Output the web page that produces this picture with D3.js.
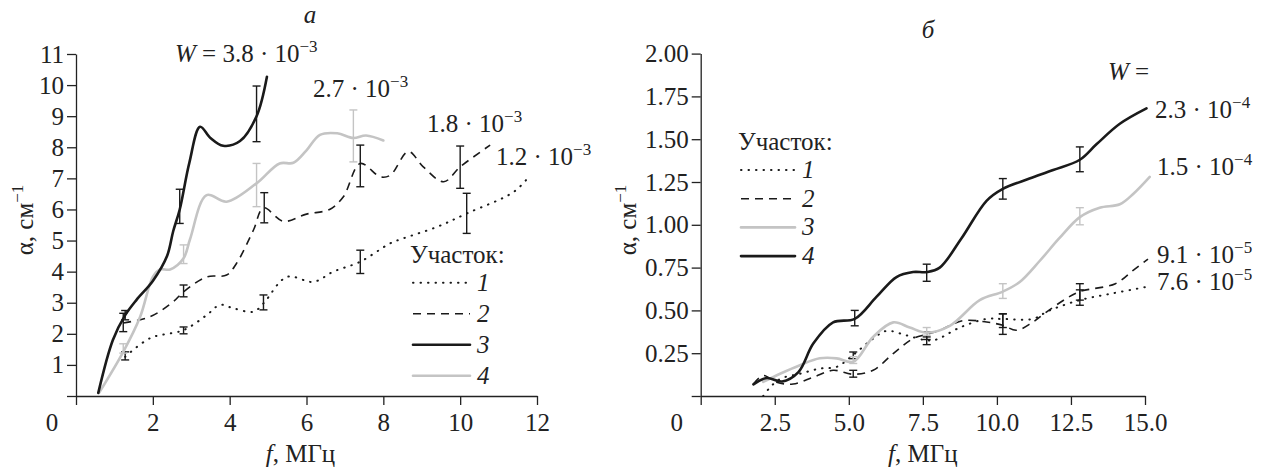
<!DOCTYPE html>
<html>
<head>
<meta charset="utf-8">
<script src="https://cdn.jsdelivr.net/npm/d3@7"></script>
<style>
  body { margin: 0; background: #fff; }
</style>
</head>
<body>
<svg id="chart" width="1267" height="471"></svg>
<script>
// ---- data: panel "а" ----
var aF1 = [1.28, 1.93, 2.8, 3.4, 3.75, 4.1, 4.62, 4.88, 5.49, 6.18, 6.7, 7.4, 8.18, 8.52, 9.4, 10.17, 11.4, 11.82];
var aA1 = [1.26, 1.86, 2.12, 2.6, 2.93, 2.82, 2.71, 2.98, 3.83, 3.67, 4.0, 4.32, 4.91, 5.07, 5.44, 5.87, 6.57, 7.1];
var aF2 = [1.23, 1.93, 2.53, 2.8, 3.4, 3.92, 4.18, 4.62, 4.88, 5.4, 6.0, 6.6, 6.96, 7.4, 7.92, 8.18, 8.65, 9.04, 9.57, 10.0, 10.78];
var aA2 = [2.35, 2.55, 3.03, 3.35, 3.83, 3.89, 4.27, 5.34, 6.05, 5.62, 5.85, 6.0, 6.41, 7.48, 7.05, 7.1, 7.86, 7.37, 6.89, 7.37, 8.07];
var aF3 = [0.58, 0.96, 1.28, 1.58, 2.0, 2.37, 2.53, 2.7, 2.95, 3.23, 3.5, 3.83, 4.27, 4.7, 4.97];
var aA3 = [0.1, 1.8, 2.6, 3.1, 3.7, 4.5, 5.3, 6.0, 7.5, 8.66, 8.3, 8.05, 8.2, 9.0, 10.27];
var aF4 = [0.6, 1.23, 1.67, 2.0, 2.19, 2.45, 2.8, 2.97, 3.4, 3.92, 4.7, 5.3, 5.66, 6.0, 6.35, 6.8, 7.22, 7.55, 8.0];
var aA4 = [0.1, 1.42, 2.55, 3.83, 4.07, 4.07, 4.43, 5.05, 6.46, 6.25, 6.84, 7.48, 7.5, 7.9, 8.4, 8.45, 8.3, 8.38, 8.22];
// error bars [f, low, high]
var aErr1 = [[1.28, 1.16, 1.42], [2.8, 2.0, 2.22], [4.88, 2.77, 3.25], [7.4, 3.94, 4.69], [10.17, 5.23, 6.52]];
var aErr2 = [[1.23, 2.07, 2.66], [2.8, 3.19, 3.57], [4.9, 5.57, 6.54], [7.4, 6.73, 8.07], [10.0, 6.68, 8.04]];
var aErr3 = [[1.28, 2.45, 2.75], [2.7, 5.55, 6.65], [4.7, 8.18, 9.97]];
var aErr4 = [[1.23, 1.38, 1.68], [2.8, 4.26, 4.86], [4.7, 6.09, 7.48], [7.22, 7.53, 9.2]];
var aTicksX = [0, 2, 4, 6, 8, 10, 12];
var aTicksY = [0, 1, 2, 3, 4, 5, 6, 7, 8, 9, 10, 11];
var aLabels = ["W = 3.8 · 10", "2.7 · 10", "1.8 · 10", "1.2 · 10"];
var aExp = ["−3", "−3", "−3", "−3"];

// ---- data: panel "б" ----
var bF1 = [2.11, 2.34, 2.68, 3.35, 4.02, 4.59, 5.15, 5.82, 6.27, 6.95, 7.63, 7.96, 8.75, 9.65, 10.2, 11.2, 11.78, 12.8, 13.92, 15.05];
var bA1 = [0.0, 0.05, 0.10, 0.13, 0.16, 0.17, 0.24, 0.335, 0.38, 0.354, 0.325, 0.33, 0.40, 0.45, 0.45, 0.45, 0.5, 0.56, 0.6, 0.637];
var bF2 = [1.78, 2.11, 2.56, 3.12, 3.8, 4.47, 5.15, 5.82, 6.5, 7.17, 7.63, 8.07, 8.86, 9.65, 10.2, 10.66, 11.2, 11.67, 12.35, 12.8, 14.0, 14.6, 15.1];
var bA2 = [0.07, 0.12, 0.08, 0.07, 0.11, 0.15, 0.127, 0.15, 0.248, 0.335, 0.36, 0.384, 0.44, 0.432, 0.413, 0.384, 0.43, 0.49, 0.57, 0.61, 0.656, 0.734, 0.80];
var bF3 = [2.11, 2.68, 3.35, 4.02, 4.59, 5.15, 5.82, 6.5, 7.06, 7.63, 8.41, 9.42, 10.2, 10.77, 11.45, 12.1, 12.8, 13.47, 14.15, 14.6, 15.16];
var bA3 = [0.082, 0.13, 0.18, 0.22, 0.22, 0.2, 0.345, 0.43, 0.40, 0.37, 0.41, 0.56, 0.61, 0.666, 0.79, 0.92, 1.045, 1.10, 1.12, 1.18, 1.28];
var bF4 = [1.78, 2.23, 2.75, 3.3, 3.8, 4.47, 5.2, 5.94, 6.61, 7.17, 7.63, 8.07, 8.8, 9.65, 10.2, 11.1, 11.9, 12.8, 13.36, 14.15, 15.05];
var bA4 = [0.068, 0.105, 0.085, 0.14, 0.306, 0.43, 0.45, 0.58, 0.695, 0.724, 0.724, 0.75, 0.92, 1.14, 1.21, 1.27, 1.32, 1.38, 1.47, 1.59, 1.68];
var bErr1 = [[5.15, 0.218, 0.257], [7.63, 0.30, 0.345], [10.2, 0.40, 0.48], [12.8, 0.53, 0.62]];
var bErr2 = [[5.15, 0.11, 0.15], [7.63, 0.33, 0.375], [10.2, 0.36, 0.48], [12.8, 0.56, 0.656]];
var bErr3 = [[5.15, 0.19, 0.23], [7.63, 0.355, 0.40], [10.2, 0.57, 0.656], [12.8, 1.0, 1.10]];
var bErr4 = [[5.2, 0.41, 0.50], [7.63, 0.67, 0.77], [10.2, 1.15, 1.27], [12.8, 1.31, 1.455]];
var bTicksX = [0, 2.5, 5, 7.5, 10, 12.5, 15];
var bTicksY = [0, 0.25, 0.5, 0.75, 1, 1.25, 1.5, 1.75, 2];
var bLabels = ["2.3 · 10", "1.5 · 10", "9.1 · 10", "7.6 · 10"];
var bExp = ["−4", "−4", "−5", "−5"];

var FONT = "'Liberation Serif', 'Times New Roman'";
var FS = 25, SUP = 17;
var GRAY = "#c4c4c4", INK = "#1a1a1a";

var svg = d3.select("#chart");

var styles = {
  dot:  { stroke: INK, width: 2.0, dash: "0.5,7", cap: "round" },
  dash: { stroke: INK, width: 1.6, dash: "8,6", cap: "butt" },
  black:{ stroke: INK, width: 2.6, dash: null, cap: "round" },
  gray: { stroke: GRAY, width: 2.6, dash: null, cap: "round" }
};

function zip(fs, as) { return fs.map(function(f, i) { return [f, as[i]]; }); }

function txt(sel, size) {
  return sel.append("text").attr("font-family", FONT).style("font-family", FONT)
    .attr("font-size", size || FS).attr("fill", "#222");
}

function panel(o) {
  var x = d3.scaleLinear().domain(o.xd).range(o.xr);
  var y = d3.scaleLinear().domain(o.yd).range(o.yr);
  var g = svg.append("g");

  // axes
  var ax = g.append("g").attr("transform", "translate(0," + o.yr[0] + ")")
    .call(d3.axisBottom(x).tickValues(o.xt).tickSize(9).tickSizeOuter(0)
      .tickFormat(function(d) { return d === 0 ? "" : o.xf(d); }));
  var ay = g.append("g").attr("transform", "translate(" + o.xr[0] + ",0)")
    .call(d3.axisLeft(y).tickValues(o.yt).tickSize(9).tickSizeOuter(0)
      .tickFormat(function(d) { return d === 0 ? "" : o.yf(d); }));
  [ax, ay].forEach(function(a) {
    a.attr("font-family", FONT).attr("font-size", FS);
    a.selectAll("path, line").attr("stroke", "#222").attr("stroke-width", 1.3);
    a.selectAll("text").attr("fill", "#222").style("font-family", FONT).style("font-size", FS + "px");
  });
  ax.selectAll("text").attr("dy", "0.92em");
  txt(g).attr("x", o.xr[0] - 24).attr("y", o.yr[0] + 35).attr("text-anchor", "middle").text("0");

  // axis titles
  var xt = txt(g).attr("x", (o.xr[0] + o.xr[1]) / 2 + o.xtOff).attr("y", 462).attr("text-anchor", "middle");
  xt.append("tspan").attr("font-style", "italic").text("f");
  xt.append("tspan").text(", МГц");
  var yt = txt(g).attr("transform", "translate(" + o.ytx + ",220) rotate(-90)").attr("text-anchor", "middle");
  yt.append("tspan").text("α, см");
  yt.append("tspan").attr("font-size", SUP).attr("dy", -10).text("−1");

  // curves
  var line = d3.line().x(function(d) { return x(d[0]); }).y(function(d) { return y(d[1]); })
    .curve(d3.curveCatmullRom.alpha(0.5));
  o.series.forEach(function(s) {
    var st = styles[s.style];
    g.append("path").datum(zip(s.f, s.a)).attr("d", line)
      .attr("fill", "none").attr("stroke", st.stroke).attr("stroke-width", st.width)
      .attr("stroke-dasharray", st.dash).attr("stroke-linecap", st.cap);
    var eb = g.selectAll(null).data(s.err).enter().append("g")
      .attr("stroke", st.stroke).attr("stroke-width", 1.4);
    eb.append("line").attr("x1", function(d) { return x(d[0]); }).attr("x2", function(d) { return x(d[0]); })
      .attr("y1", function(d) { return y(d[1]); }).attr("y2", function(d) { return y(d[2]); });
    [1, 2].forEach(function(k) {
      eb.append("line").attr("x1", function(d) { return x(d[0]) - 4; }).attr("x2", function(d) { return x(d[0]) + 4; })
        .attr("y1", function(d) { return y(d[k]); }).attr("y2", function(d) { return y(d[k]); });
    });
  });

  // legend
  var lg = g.append("g");
  txt(lg).attr("x", o.lg.x).attr("y", o.lg.y).text("Участок:");
  o.lg.order.forEach(function(sty, i) {
    var st = styles[sty];
    var yy = o.lg.y + o.lg.dy * (i + 1) - o.lg.off;
    lg.append("line").attr("x1", o.lg.x + 3).attr("x2", o.lg.x + o.lg.len)
      .attr("y1", yy).attr("y2", yy).attr("stroke", st.stroke)
      .attr("stroke-width", st.width).attr("stroke-dasharray", st.dash).attr("stroke-linecap", st.cap);
    txt(lg).attr("font-style", "italic").attr("x", o.lg.x + o.lg.len + 7).attr("y", yy + 8)
      .text(String(i + 1));
  });

  // W labels
  o.notes.forEach(function(n, i) {
    var t = txt(g).attr("x", n.x).attr("y", n.y);
    var s = o.labels[i];
    if (s.indexOf("W") === 0) {
      t.append("tspan").attr("font-style", "italic").text("W");
      s = s.slice(1);
    }
    t.append("tspan").text(s);
    t.append("tspan").attr("font-size", SUP).attr("dy", -10).text(o.exp[i]);
  });
  return g;
}

panel({
  xd: [0, 12], xr: [76, 537], yd: [0, 11], yr: [396, 54],
  xt: aTicksX, yt: aTicksY,
  xf: d3.format("d"), yf: d3.format("d"),
  xtOff: -6, ytx: 33,
  series: [
    { f: aF1, a: aA1, err: aErr1, style: "dot" },
    { f: aF2, a: aA2, err: aErr2, style: "dash" },
    { f: aF4, a: aA4, err: aErr4, style: "gray" },
    { f: aF3, a: aA3, err: aErr3, style: "black" }
  ],
  lg: { x: 410, y: 263, dy: 31, off: 11.3, len: 60, order: ["dot", "dash", "black", "gray"] },
  labels: aLabels, exp: aExp,
  notes: [{ x: 175, y: 62 }, { x: 313, y: 97 }, { x: 427, y: 132 }, { x: 496, y: 165 }]
});

panel({
  xd: [0, 15], xr: [700.7, 1145], yd: [0, 2], yr: [396, 53.6],
  xt: bTicksX, yt: bTicksY,
  xf: d3.format(".1f"), yf: d3.format(".2f"),
  xtOff: 0, ytx: 636,
  series: [
    { f: bF1, a: bA1, err: bErr1, style: "dot" },
    { f: bF2, a: bA2, err: bErr2, style: "dash" },
    { f: bF3, a: bA3, err: bErr3, style: "gray" },
    { f: bF4, a: bA4, err: bErr4, style: "black" }
  ],
  lg: { x: 738, y: 150, dy: 28.7, off: 8.7, len: 57, order: ["dot", "dash", "gray", "black"] },
  labels: bLabels, exp: bExp,
  notes: [{ x: 1155, y: 118 }, { x: 1157, y: 175 }, { x: 1157, y: 263 }, { x: 1157, y: 290 }]
});

var wl = txt(svg).attr("x", 1108).attr("y", 80);
wl.append("tspan").attr("font-style", "italic").text("W");
wl.append("tspan").text(" =");

txt(svg).attr("font-style", "italic").attr("x", 310).attr("y", 23).attr("text-anchor", "middle").text("а");
txt(svg).attr("font-style", "italic").attr("x", 928).attr("y", 38).attr("text-anchor", "middle").text("б");
</script>
</body>
</html>
